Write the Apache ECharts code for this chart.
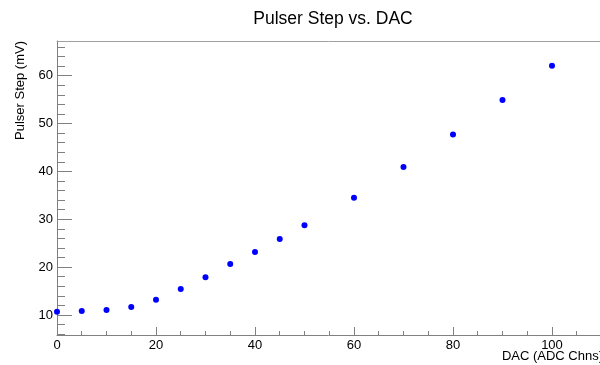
<!DOCTYPE html>
<html>
<head>
<meta charset="utf-8">
<script src="https://cdn.jsdelivr.net/npm/echarts@6/dist/echarts.min.js"></script>
<style>html,body{margin:0;padding:0;background:#fff;}#c{width:600px;height:365px;}</style>
</head>
<body>
<div id="c"></div>
<script>
const dacValues = [0, 5, 10, 15, 20, 25, 30, 35, 40, 45, 50, 60, 70, 80, 90, 100];
const pulserStep = [10.69, 10.84, 11.04, 11.67, 13.2, 15.43, 17.88, 20.65, 23.16, 25.88, 28.74, 34.51, 40.9, 47.7, 54.9, 62.1];
const xTickLabels = [0, 20, 40, 60, 80, 100];
const xMinorTicks = [5, 10, 15, 25, 30, 35, 45, 50, 55, 65, 70, 75, 85, 90, 95, 105];
const yTickLabels = [10, 20, 30, 40, 50, 60];
const yMinorTicks = [6, 8, 12, 14, 16, 18, 22, 24, 26, 28, 32, 34, 36, 38, 42, 44, 46, 48, 52, 54, 56, 58, 62, 64, 66];
const titleText = 'Pulser Step vs. DAC';
const xTitle = 'DAC (ADC Chns)';
const yTitle = 'Pulser Step (mV)';

const X_MIN = 0, X_MAX = 109.7, Y_MIN = 5.82, Y_MAX = 67.25;
const axisColor = '#808080';
const FONT = '"Liberation Sans", Arial, sans-serif';

const chart = echarts.init(document.getElementById('c'), null, {renderer: 'canvas'});
const grid = {left: 57, top: 41, right: 0, bottom: 30};
chart.setOption({
  animation: false,
  backgroundColor: '#fff',
  title: {
    text: titleText, left: 328, top: 5, textAlign: 'center',
    textStyle: {fontFamily: FONT, fontSize: 17.5, fontWeight: 'normal', color: '#000'}
  },
  grid: [grid, grid],
  xAxis: [
    {
      type: 'value', gridIndex: 0, min: X_MIN, max: X_MAX, position: 'bottom',
      axisLine: {show: true, onZero: false, lineStyle: {color: axisColor, width: 1}},
      axisTick: {show: true, inside: true, length: 8, customValues: xTickLabels, lineStyle: {color: axisColor}},
      axisLabel: {customValues: xTickLabels, margin: 4, fontFamily: FONT, fontSize: 13, color: '#000'},
      splitLine: {show: false}
    },
    {
      type: 'value', gridIndex: 1, min: X_MIN, max: X_MAX, position: 'bottom',
      axisLine: {show: false},
      axisTick: {show: true, inside: true, length: 4, customValues: xMinorTicks, lineStyle: {color: axisColor}},
      axisLabel: {show: false},
      splitLine: {show: false}
    },
    {
      type: 'value', gridIndex: 1, min: X_MIN, max: X_MAX, position: 'top',
      axisLine: {show: true, onZero: false, lineStyle: {color: '#a0a0a0', width: 1}},
      axisTick: {show: false}, axisLabel: {show: false}, splitLine: {show: false}
    }
  ],
  yAxis: [
    {
      type: 'value', gridIndex: 0, min: Y_MIN, max: Y_MAX, position: 'left',
      axisLine: {show: true, onZero: false, lineStyle: {color: axisColor, width: 1}},
      axisTick: {show: true, inside: true, length: 15, customValues: yTickLabels, lineStyle: {color: axisColor}},
      axisLabel: {customValues: yTickLabels, margin: 4, fontFamily: FONT, fontSize: 13, color: '#000'},
      splitLine: {show: false}
    },
    {
      type: 'value', gridIndex: 1, min: Y_MIN, max: Y_MAX, position: 'left',
      axisLine: {show: false},
      axisTick: {show: true, inside: true, length: 8, customValues: yMinorTicks, lineStyle: {color: axisColor}},
      axisLabel: {show: false},
      splitLine: {show: false}
    }
  ],
  graphic: [
    {
      type: 'text', right: -3, top: 350,
      style: {text: xTitle, fontFamily: FONT, fontSize: 13, fill: '#000'}
    },
    {
      type: 'text', x: 20, y: 140, rotation: Math.PI / 2,
      style: {text: yTitle, fontFamily: FONT, fontSize: 13, fill: '#000', textAlign: 'left', textVerticalAlign: 'middle'}
    }
  ],
  series: [{
    type: 'scatter', xAxisIndex: 0, yAxisIndex: 0,
    data: dacValues.map((x, i) => [x, pulserStep[i]]),
    symbol: 'circle', symbolSize: 6,
    itemStyle: {color: '#0000ff', opacity: 1}
  }]
});
</script>
</body>
</html>
